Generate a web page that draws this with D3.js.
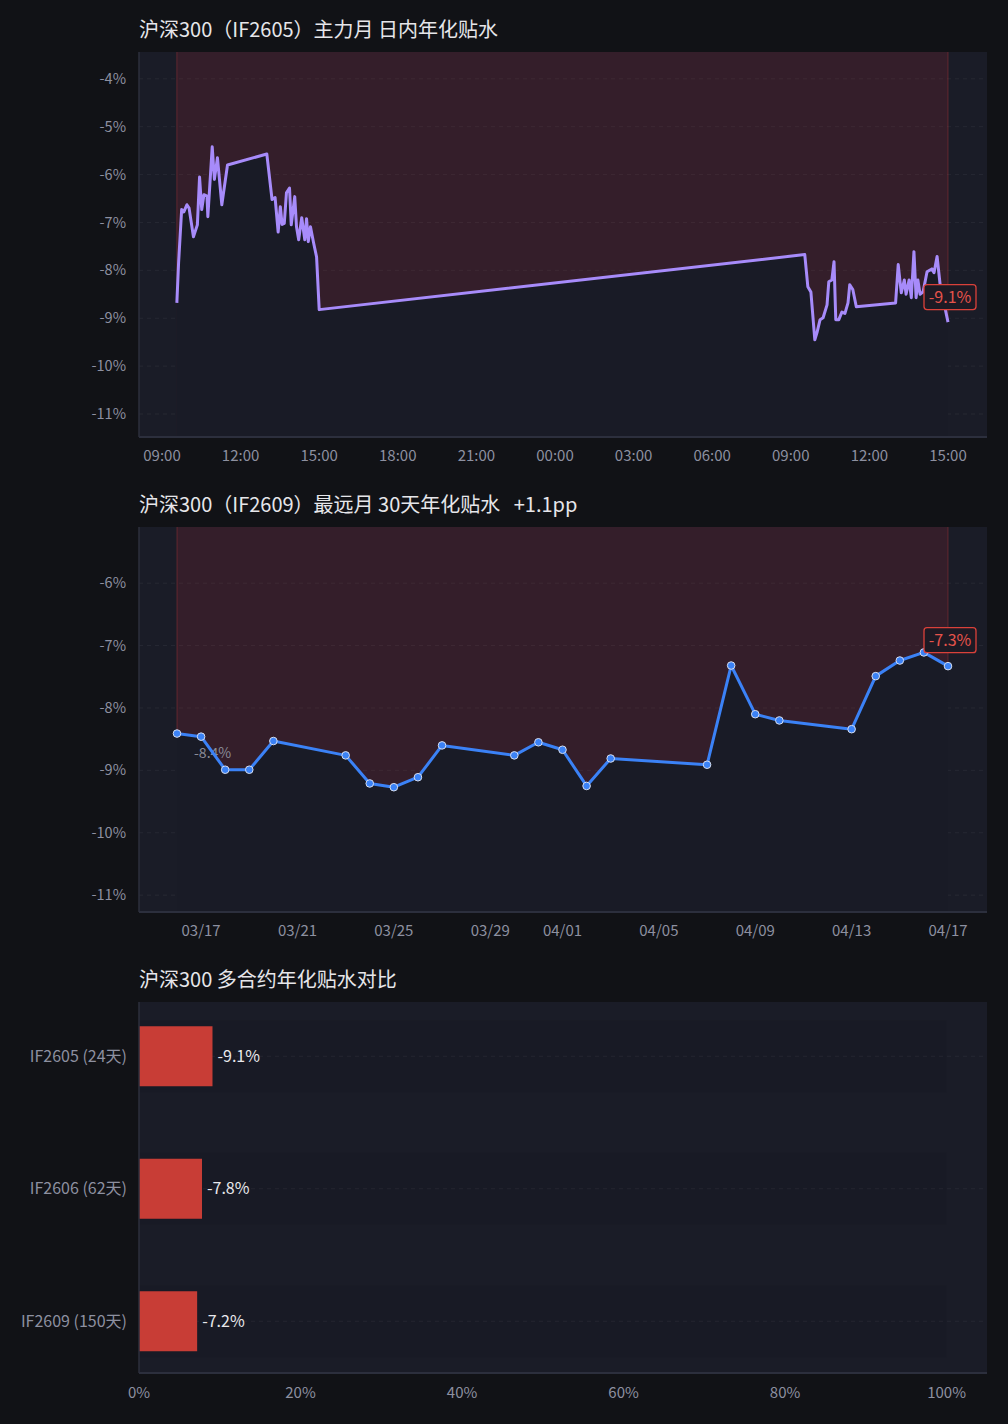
<!DOCTYPE html>
<html>
<head>
<meta charset="utf-8">
<script src="https://cdn.jsdelivr.net/npm/d3@7"></script>
<style>
  html, body { margin: 0; padding: 0; background: #111216; }
  svg { display: block; }
  text { font-family: "Noto Sans CJK SC", "Noto Sans", sans-serif; white-space: pre; }
</style>
</head>
<body>
<svg id="chart" width="1008" height="1424"></svg>
<script>
// ---------- DATA ----------
const titles = [
  "沪深300（IF2605）主力月 日内年化贴水",
  "沪深300（IF2609）最远月 30天年化贴水   +1.1pp",
  "沪深300 多合约年化贴水对比"
];

// Chart 1: intraday annualized discount (%), two sessions
const intraTimes = [
  "2026-04-16 09:34","2026-04-16 09:38","2026-04-16 09:45","2026-04-16 09:50","2026-04-16 09:57",
  "2026-04-16 10:02","2026-04-16 10:12","2026-04-16 10:21","2026-04-16 10:26","2026-04-16 10:31",
  "2026-04-16 10:36","2026-04-16 10:43","2026-04-16 10:45","2026-04-16 10:55","2026-04-16 11:00",
  "2026-04-16 11:07","2026-04-16 11:17","2026-04-16 11:30",
  "2026-04-16 13:00","2026-04-16 13:12","2026-04-16 13:19","2026-04-16 13:26","2026-04-16 13:31",
  "2026-04-16 13:35","2026-04-16 13:40","2026-04-16 13:45","2026-04-16 13:52","2026-04-16 13:56",
  "2026-04-16 14:04","2026-04-16 14:08","2026-04-16 14:13","2026-04-16 14:20","2026-04-16 14:27",
  "2026-04-16 14:31","2026-04-16 14:35","2026-04-16 14:40","2026-04-16 14:47","2026-04-16 14:54",
  "2026-04-16 15:00",
  "2026-04-17 09:32","2026-04-17 09:39","2026-04-17 09:46","2026-04-17 09:55","2026-04-17 10:00",
  "2026-04-17 10:07","2026-04-17 10:14","2026-04-17 10:23","2026-04-17 10:27","2026-04-17 10:34",
  "2026-04-17 10:39","2026-04-17 10:43","2026-04-17 10:50","2026-04-17 10:57","2026-04-17 11:04",
  "2026-04-17 11:11","2026-04-17 11:15","2026-04-17 11:22","2026-04-17 11:30",
  "2026-04-17 13:00","2026-04-17 13:06","2026-04-17 13:13","2026-04-17 13:20","2026-04-17 13:24",
  "2026-04-17 13:31","2026-04-17 13:36","2026-04-17 13:42","2026-04-17 13:47","2026-04-17 13:51",
  "2026-04-17 13:56","2026-04-17 14:03","2026-04-17 14:12","2026-04-17 14:23","2026-04-17 14:28",
  "2026-04-17 14:35","2026-04-17 14:42","2026-04-17 15:00"
];
const intraValues = [
  -8.68,-7.84,-6.73,-6.78,-6.63,
  -6.70,-7.30,-7.05,-6.05,-6.73,
  -6.42,-6.45,-6.88,-5.42,-6.10,
  -5.65,-6.63,-5.80,
  -5.57,-6.52,-6.48,-7.20,-6.67,
  -7.04,-7.02,-6.38,-6.28,-7.05,
  -6.46,-7.09,-7.36,-6.90,-7.36,
  -6.92,-7.40,-7.09,-7.42,-7.72,
  -8.82,
  -7.67,-8.34,-8.45,-9.45,-9.30,
  -9.03,-8.99,-8.72,-8.24,-8.20,
  -7.82,-9.03,-9.03,-8.87,-8.90,
  -8.68,-8.30,-8.40,-8.76,
  -8.68,-7.88,-8.47,-8.20,-8.50,
  -8.20,-8.57,-7.61,-8.57,-8.20,
  -8.50,-8.45,-8.03,-7.97,-8.05,
  -7.71,-8.30,-9.08
];
const intraYTicks = [-4,-5,-6,-7,-8,-9,-10,-11];
const intraLastLabel = "-9.1%";

// Chart 2: 30-day annualized discount of far contract
const dailyDates = [
  "2026-03-16","2026-03-17","2026-03-18","2026-03-19","2026-03-20",
  "2026-03-23","2026-03-24","2026-03-25","2026-03-26","2026-03-27",
  "2026-03-30","2026-03-31","2026-04-01","2026-04-02","2026-04-03",
  "2026-04-07","2026-04-08","2026-04-09","2026-04-10",
  "2026-04-13","2026-04-14","2026-04-15","2026-04-16","2026-04-17"
];
const dailyValues = [
  -8.41,-8.46,-8.99,-8.99,-8.53,
  -8.76,-9.21,-9.27,-9.11,-8.60,
  -8.76,-8.55,-8.67,-9.25,-8.81,
  -8.91,-7.32,-8.10,-8.20,
  -8.34,-7.49,-7.24,-7.11,-7.33
];
const dailyYTicks = [-6,-7,-8,-9,-10,-11];
const dailyFirstLabel = "-8.4%";
const dailyLastLabel = "-7.3%";

// Chart 3: contract comparison
const contracts = ["IF2605 (24天)","IF2606 (62天)","IF2609 (150天)"];
const contractValues = [-9.1, -7.8, -7.2];
const barXTicks = [0,20,40,60,80,100];

// ---------- STYLE ----------
const C = {
  plotBg: "#1a1c27",
  underBg: "#191b26",
  axisLine: "#2c2f3d",
  grid: "rgba(255,255,255,0.055)",
  tick: "#8d90a0",
  title: "#e6e6ea",
  red: "rgba(200,50,60,0.15)",
  redEdge: "rgba(200,60,60,0.35)",
  purple: "#a78bfa",
  blue: "#3b82f6",
  bar: "#c83d36",
  tagText: "#e5534b",
  tagStroke: "#d9413a"
};

const svg = d3.select("#chart");
svg.append("rect").attr("width",1008).attr("height",1424).attr("fill","#111216");

const plotL = 139, plotR = 987;
const parseT = d3.timeParse("%Y-%m-%d %H:%M");
const parseD = d3.timeParse("%Y-%m-%d");

function title(txt, y) {
  svg.append("text").attr("x", plotL).attr("y", y).attr("fill", C.title)
    .attr("font-size", 20).attr("xml:space", "preserve").text(txt);
}

function frame(top, bottom) {
  svg.append("rect").attr("x", plotL).attr("y", top).attr("width", plotR-plotL)
    .attr("height", bottom-top).attr("fill", C.plotBg);
}
function axesLines(top, bottom) {
  svg.append("line").attr("x1", plotL).attr("x2", plotL).attr("y1", top).attr("y2", bottom)
    .attr("stroke", C.axisLine).attr("stroke-width", 1.5);
  svg.append("line").attr("x1", plotL).attr("x2", plotR).attr("y1", bottom).attr("y2", bottom)
    .attr("stroke", C.axisLine).attr("stroke-width", 2);
}

function yAxis(y, ticks) {
  const g = svg.append("g");
  ticks.forEach(t => {
    g.append("line").attr("x1", plotL).attr("x2", plotR).attr("y1", y(t)).attr("y2", y(t))
      .attr("stroke", C.grid).attr("stroke-dasharray", "4,4");
    g.append("text").attr("x", 126).attr("y", y(t)).attr("dy", "0.35em")
      .attr("text-anchor", "end").attr("fill", C.tick).attr("font-size", 14.5)
      .text(t + "%");
  });
}

function tag(x, y, txt) {
  const w = 52, h = 25;
  svg.append("rect").attr("x", x - w/2).attr("y", y - h/2).attr("width", w).attr("height", h)
    .attr("rx", 3).attr("fill", "#1d1a24").attr("stroke", C.tagStroke).attr("stroke-width", 1.3);
  svg.append("text").attr("x", x).attr("y", y).attr("dy", "0.36em").attr("text-anchor", "middle")
    .attr("fill", C.tagText).attr("font-size", 16).text(txt);
}

function xLabel(xp, yp, txt) {
  svg.append("text").attr("x", xp).attr("y", yp).attr("dy", "0.35em")
    .attr("text-anchor", "middle").attr("fill", C.tick).attr("font-size", 15).text(txt);
}

function markArea(data, x, y, top, bottom) {
  const f = data[0], l = data[data.length-1];
  const x0 = x(f.t), x1 = x(l.t);
  svg.append("rect").attr("x", x0).attr("y", top).attr("width", x1 - x0).attr("height", bottom - top)
    .attr("fill", C.red);
  svg.append("line").attr("x1", x0).attr("x2", x0).attr("y1", top).attr("y2", y(f.v))
    .attr("stroke", C.redEdge).attr("stroke-width", 1);
  svg.append("line").attr("x1", x1).attr("x2", x1).attr("y1", top).attr("y2", y(l.v))
    .attr("stroke", C.redEdge).attr("stroke-width", 1);
}

// ---------- CHART 1 ----------
{
  const top = 52, bottom = 437;
  title(titles[0], 37);
  frame(top, bottom);
  const data = intraTimes.map((t, i) => ({t: parseT(t), v: intraValues[i]}));
  const x = d3.scaleTime()
    .domain([parseT("2026-04-16 09:00"), parseT("2026-04-17 15:00")])
    .range([162, 948]);
  const y = d3.scaleLinear().domain([-11.48, -3.44]).range([bottom, top]);
  yAxis(y, intraYTicks);
  markArea(data, x, y, top, bottom);

  const area = d3.area().x(d => x(d.t)).y0(bottom).y1(d => y(d.v));
  svg.append("path").datum(data).attr("d", area).attr("fill", C.underBg);
  const line = d3.line().x(d => x(d.t)).y(d => y(d.v));
  svg.append("path").datum(data).attr("d", line).attr("fill", "none")
    .attr("stroke", C.purple).attr("stroke-width", 3).attr("stroke-linejoin", "round");

  axesLines(top, bottom);
  const fmt = d3.timeFormat("%H:%M");
  x.ticks(d3.timeHour.every(3)).forEach(t => xLabel(x(t), 456, fmt(t)));
  const last = data[data.length-1];
  tag(x(last.t) + 2, y(last.v) - 25, intraLastLabel);
}

// ---------- CHART 2 ----------
{
  const top = 527, bottom = 912;
  title(titles[1], 512);
  frame(top, bottom);
  const data = dailyDates.map((d, i) => ({t: parseD(d), v: dailyValues[i]}));
  const x = d3.scaleTime()
    .domain([data[0].t, data[data.length-1].t])
    .range([177, 948]);
  const y = d3.scaleLinear().domain([-11.27, -5.10]).range([bottom, top]);
  yAxis(y, dailyYTicks);
  markArea(data, x, y, top, bottom);

  const area = d3.area().x(d => x(d.t)).y0(bottom).y1(d => y(d.v));
  svg.append("path").datum(data).attr("d", area).attr("fill", C.underBg);

  // start label (drawn beneath the line)
  svg.append("text").attr("x", x(data[0].t) + 17).attr("y", y(data[0].v) + 24)
    .attr("fill", "#8a8c98").attr("font-size", 14).text(dailyFirstLabel);

  const line = d3.line().x(d => x(d.t)).y(d => y(d.v));
  svg.append("path").datum(data).attr("d", line).attr("fill", "none")
    .attr("stroke", C.blue).attr("stroke-width", 3).attr("stroke-linejoin", "round");
  svg.append("g").selectAll("circle").data(data).join("circle")
    .attr("cx", d => x(d.t)).attr("cy", d => y(d.v)).attr("r", 3.8)
    .attr("fill", C.blue).attr("stroke", "#d6def0").attr("stroke-width", 1);

  axesLines(top, bottom);
  const fmt = d3.timeFormat("%m/%d");
  x.ticks(d3.timeDay.every(4)).forEach(t => xLabel(x(t), 931, fmt(t)));
  const last = data[data.length-1];
  tag(x(last.t) + 2, y(last.v) - 26, dailyLastLabel);
}

// ---------- CHART 3 ----------
{
  const top = 1002, bottom = 1373;
  title(titles[2], 987);
  frame(top, bottom);
  const x = d3.scaleLinear().domain([0, 105]).range([plotL, plotR]);
  const y = d3.scaleBand().domain(contracts).range([990, 1387.5]);
  const barH = 60, bgH = 72;

  contracts.forEach((c, i) => {
    const cy = y(c) + y.bandwidth()/2;
    svg.append("rect").attr("x", x(0)).attr("y", cy - bgH/2).attr("width", x(100) - x(0))
      .attr("height", bgH).attr("fill", "rgba(0,0,0,0.045)");
    svg.append("line").attr("x1", plotL).attr("x2", plotR).attr("y1", cy).attr("y2", cy)
      .attr("stroke", C.grid).attr("stroke-dasharray", "4,4");
  });
  contracts.forEach((c, i) => {
    const cy = y(c) + y.bandwidth()/2;
    const v = Math.abs(contractValues[i]);
    svg.append("rect").attr("x", x(0)).attr("y", cy - barH/2).attr("width", x(v) - x(0))
      .attr("height", barH).attr("fill", C.bar);
    svg.append("text").attr("x", x(v) + 5).attr("y", cy).attr("dy", "0.35em")
      .attr("fill", "#e8e8ec").attr("font-size", 16).text(contractValues[i].toFixed(1) + "%");
    svg.append("text").attr("x", 127).attr("y", cy).attr("dy", "0.35em").attr("text-anchor", "end")
      .attr("fill", C.tick).attr("font-size", 16).text(c);
  });
  axesLines(top, bottom);
  barXTicks.forEach(t => xLabel(x(t), 1393, t + "%"));
}
</script>
</body>
</html>
